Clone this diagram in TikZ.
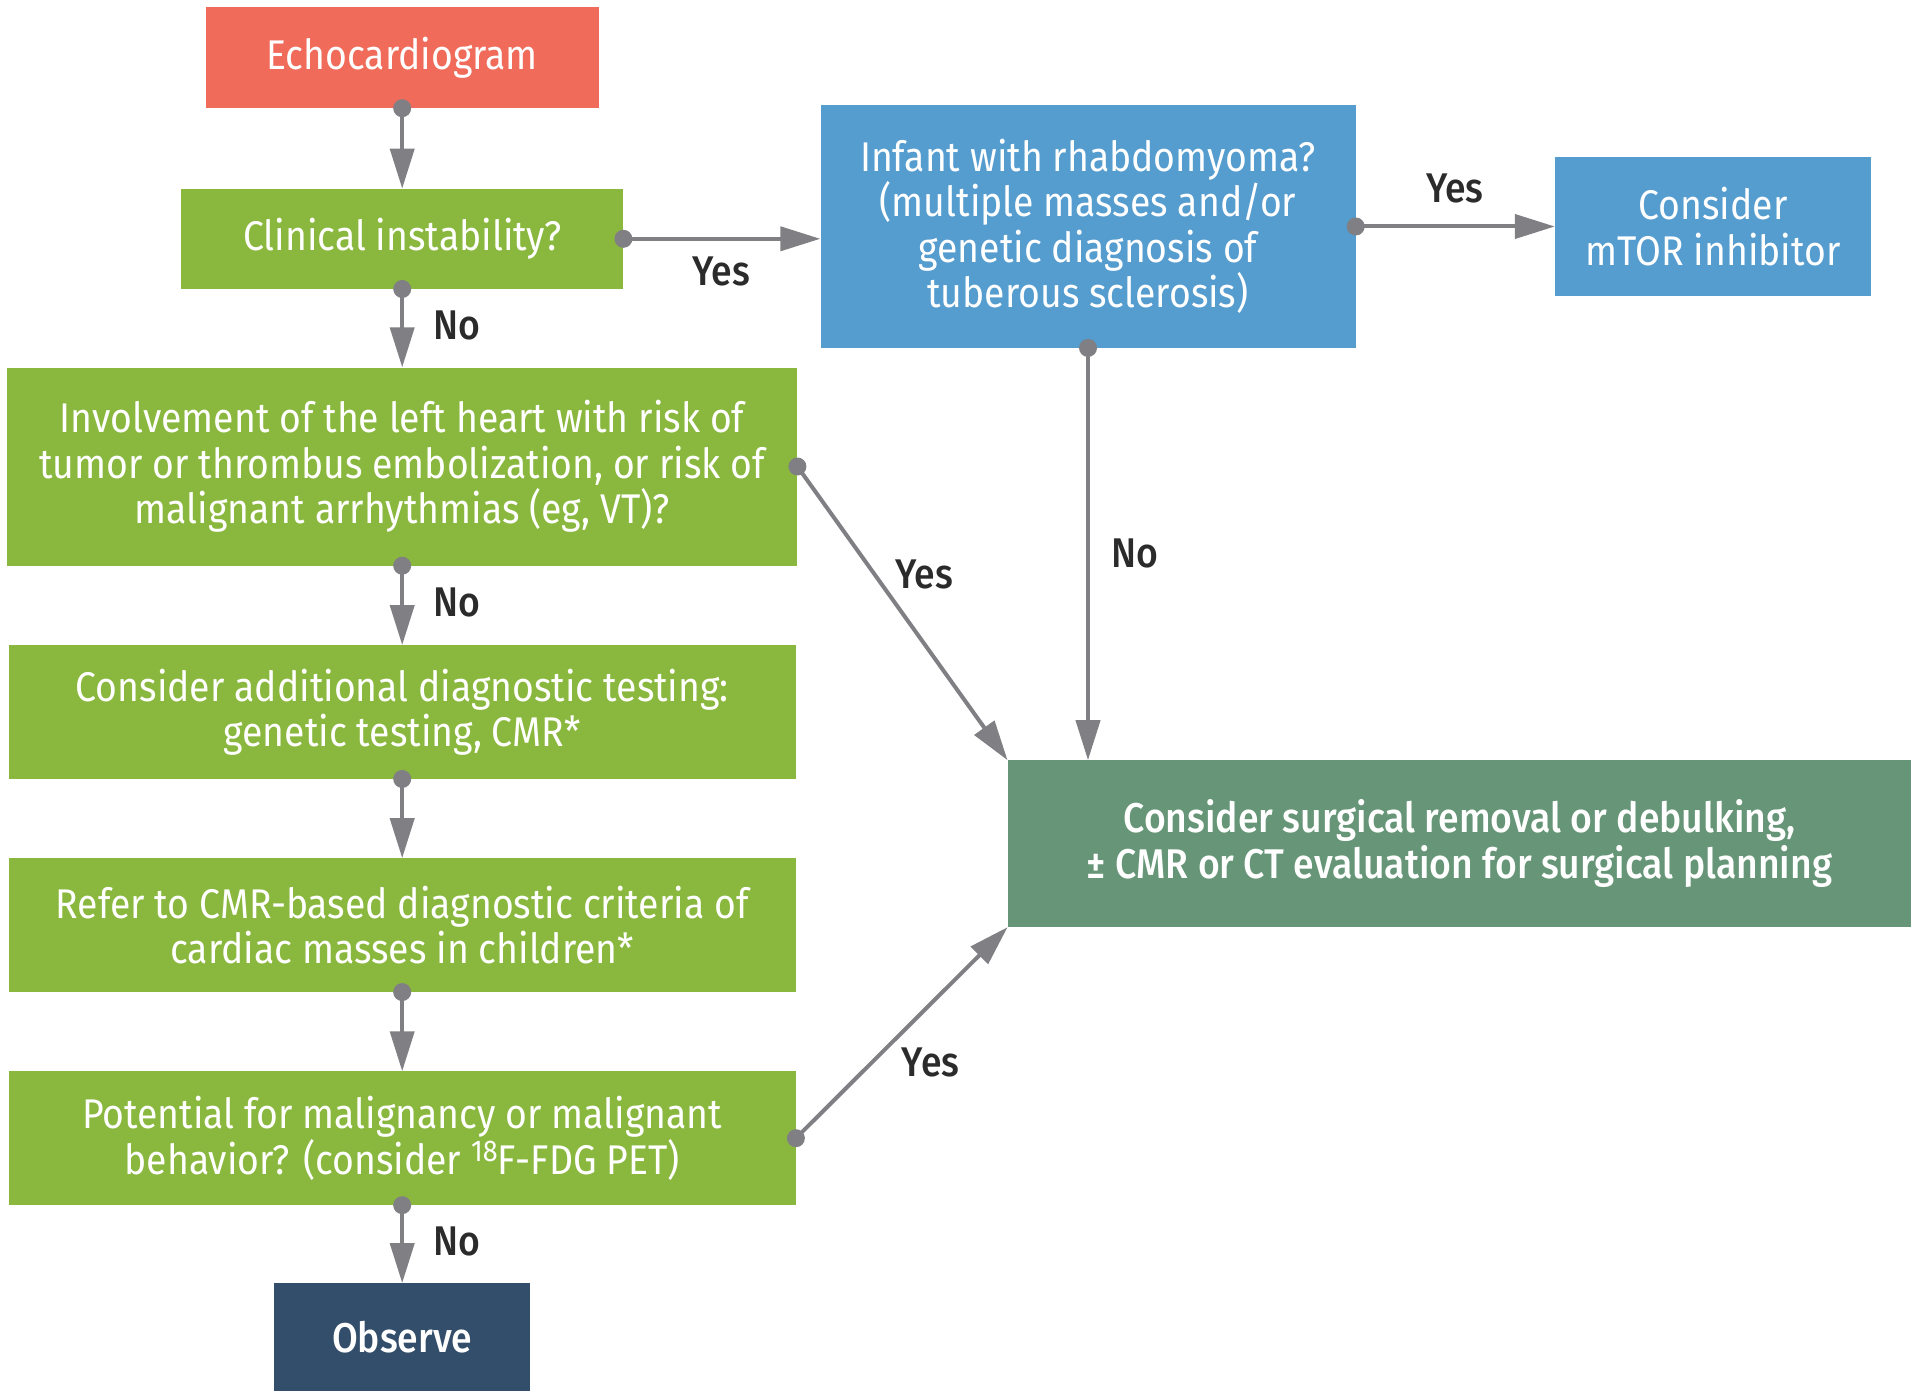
\documentclass[tikz,border=0pt]{standalone}
\usepackage{fontspec}
\setmainfont[FakeStretch=0.9]{Fira Sans}
\newfontfamily\medfont[FakeStretch=0.9]{Fira Sans Medium}
\usetikzlibrary{arrows.meta}
\definecolor{echoc}{HTML}{F06B5A}
\definecolor{greenc}{HTML}{8AB83F}
\definecolor{bluec}{HTML}{559CCF}
\definecolor{surgc}{HTML}{669677}
\definecolor{obsc}{HTML}{334E6B}
\definecolor{linec}{HTML}{7F7F84}
\definecolor{labc}{HTML}{2B2B2B}
\tikzset{
  box/.style={rectangle, inner sep=0pt, text=white, align=center,
    font=\fontsize{41.5}{45.5}\selectfont},
  medbox/.style={box, font=\medfont\fontsize{41.5}{45.5}\selectfont},
  conn/.style={draw=linec, line width=4pt, -{Triangle[length=40pt,width=24pt]}},
  lab/.style={text=labc, inner sep=0pt, font=\medfont\fontsize{41.5}{45.5}\selectfont},
}
\newcommand{\startdot}[1]{\fill[linec] (#1) circle (9pt);}
\begin{document}
\begin{tikzpicture}[x=1pt,y=-1pt]
\useasboundingbox (0,0) rectangle (1920,1399);
\node[box, fill=echoc, minimum width=393pt, minimum height=101pt] (echo) at (402.2,57.5) {Echocardiogram};
\node[box, fill=greenc, minimum width=442pt, minimum height=100pt] (clin) at (402.2,238.8) {Clinical instability?};
\node[box, fill=greenc, minimum width=790pt, minimum height=198pt] (inv) at (402.2,466.5) {Involvement of the left heart with risk of\\tumor or thrombus embolization, or risk of\\malignant arrhythmias (eg, VT)?};
\node[box, fill=greenc, minimum width=787pt, minimum height=133.5pt] (add) at (402.2,712) {Consider additional diagnostic testing:\\genetic testing, CMR*};
\node[box, fill=greenc, minimum width=787pt, minimum height=133.5pt] (ref) at (402.2,925.1) {Refer to CMR-based diagnostic criteria of\\cardiac masses in children*};
\node[box, fill=greenc, minimum width=787pt, minimum height=133.5pt] (pot) at (402.2,1138.2) {Potential for malignancy or malignant\\behavior? (consider {\fontsize{30}{30}\selectfont\raisebox{13pt}{18}}F-FDG PET)};
\node[medbox, fill=obsc, minimum width=256pt, minimum height=107.7pt] (obs) at (402.2,1337.1) {Observe};
\node[box, fill=bluec, minimum width=535pt, minimum height=242.5pt] (inf) at (1088,226.5) {Infant with rhabdomyoma?\\(multiple masses and/or\\genetic diagnosis of\\tuberous sclerosis)};
\node[box, fill=bluec, minimum width=316pt, minimum height=139.6pt] (mtor) at (1713,226.5) {Consider\\mTOR inhibitor};
\node[medbox, fill=surgc, minimum width=903.7pt, minimum height=166.6pt] (surg) at (1459.6,843.7) {Consider surgical removal or debulking,\\± CMR or CT evaluation for surgical planning};

% connectors
\draw[conn] (echo.south) -- (clin.north);
\draw[conn] (clin.south) -- (inv.north);
\draw[conn] (clin.east) -- (inf.west |- clin.east);
\draw[conn] (inf.east) -- (mtor.west);
\draw[conn] (inf.south) -- (inf.south |- surg.north);
\draw[conn] (inv.east) -- (surg.north west);
\draw[conn] (inv.south) -- (add.north);
\draw[conn] (add.south) -- (ref.north);
\draw[conn] (ref.south) -- (pot.north);
\draw[conn] (pot.east) -- (surg.south west);
\draw[conn] (pot.south) -- (obs.north);
\startdot{echo.south}
\startdot{clin.south}
\startdot{clin.east}
\startdot{inf.east}
\startdot{inf.south}
\startdot{inv.east}
\startdot{inv.south}
\startdot{add.south}
\startdot{ref.south}
\startdot{pot.east}
\startdot{pot.south}

% labels
\node[lab] (l1) at (456.7,325.7) {No};
\node[lab] (l2) at (721.2,271.8) {Yes};
\node[lab] (l3) at (1454.7,188.6) {Yes};
\node[lab] (l4) at (1135,553.5) {No};
\node[lab] (l5) at (924.5,574.3) {Yes};
\node[lab] (l6) at (456.7,602.5) {No};
\node[lab] (l7) at (930.6,1062.9) {Yes};
\node[lab] (l8) at (456.7,1241.6) {No};
\end{tikzpicture}
\end{document}
